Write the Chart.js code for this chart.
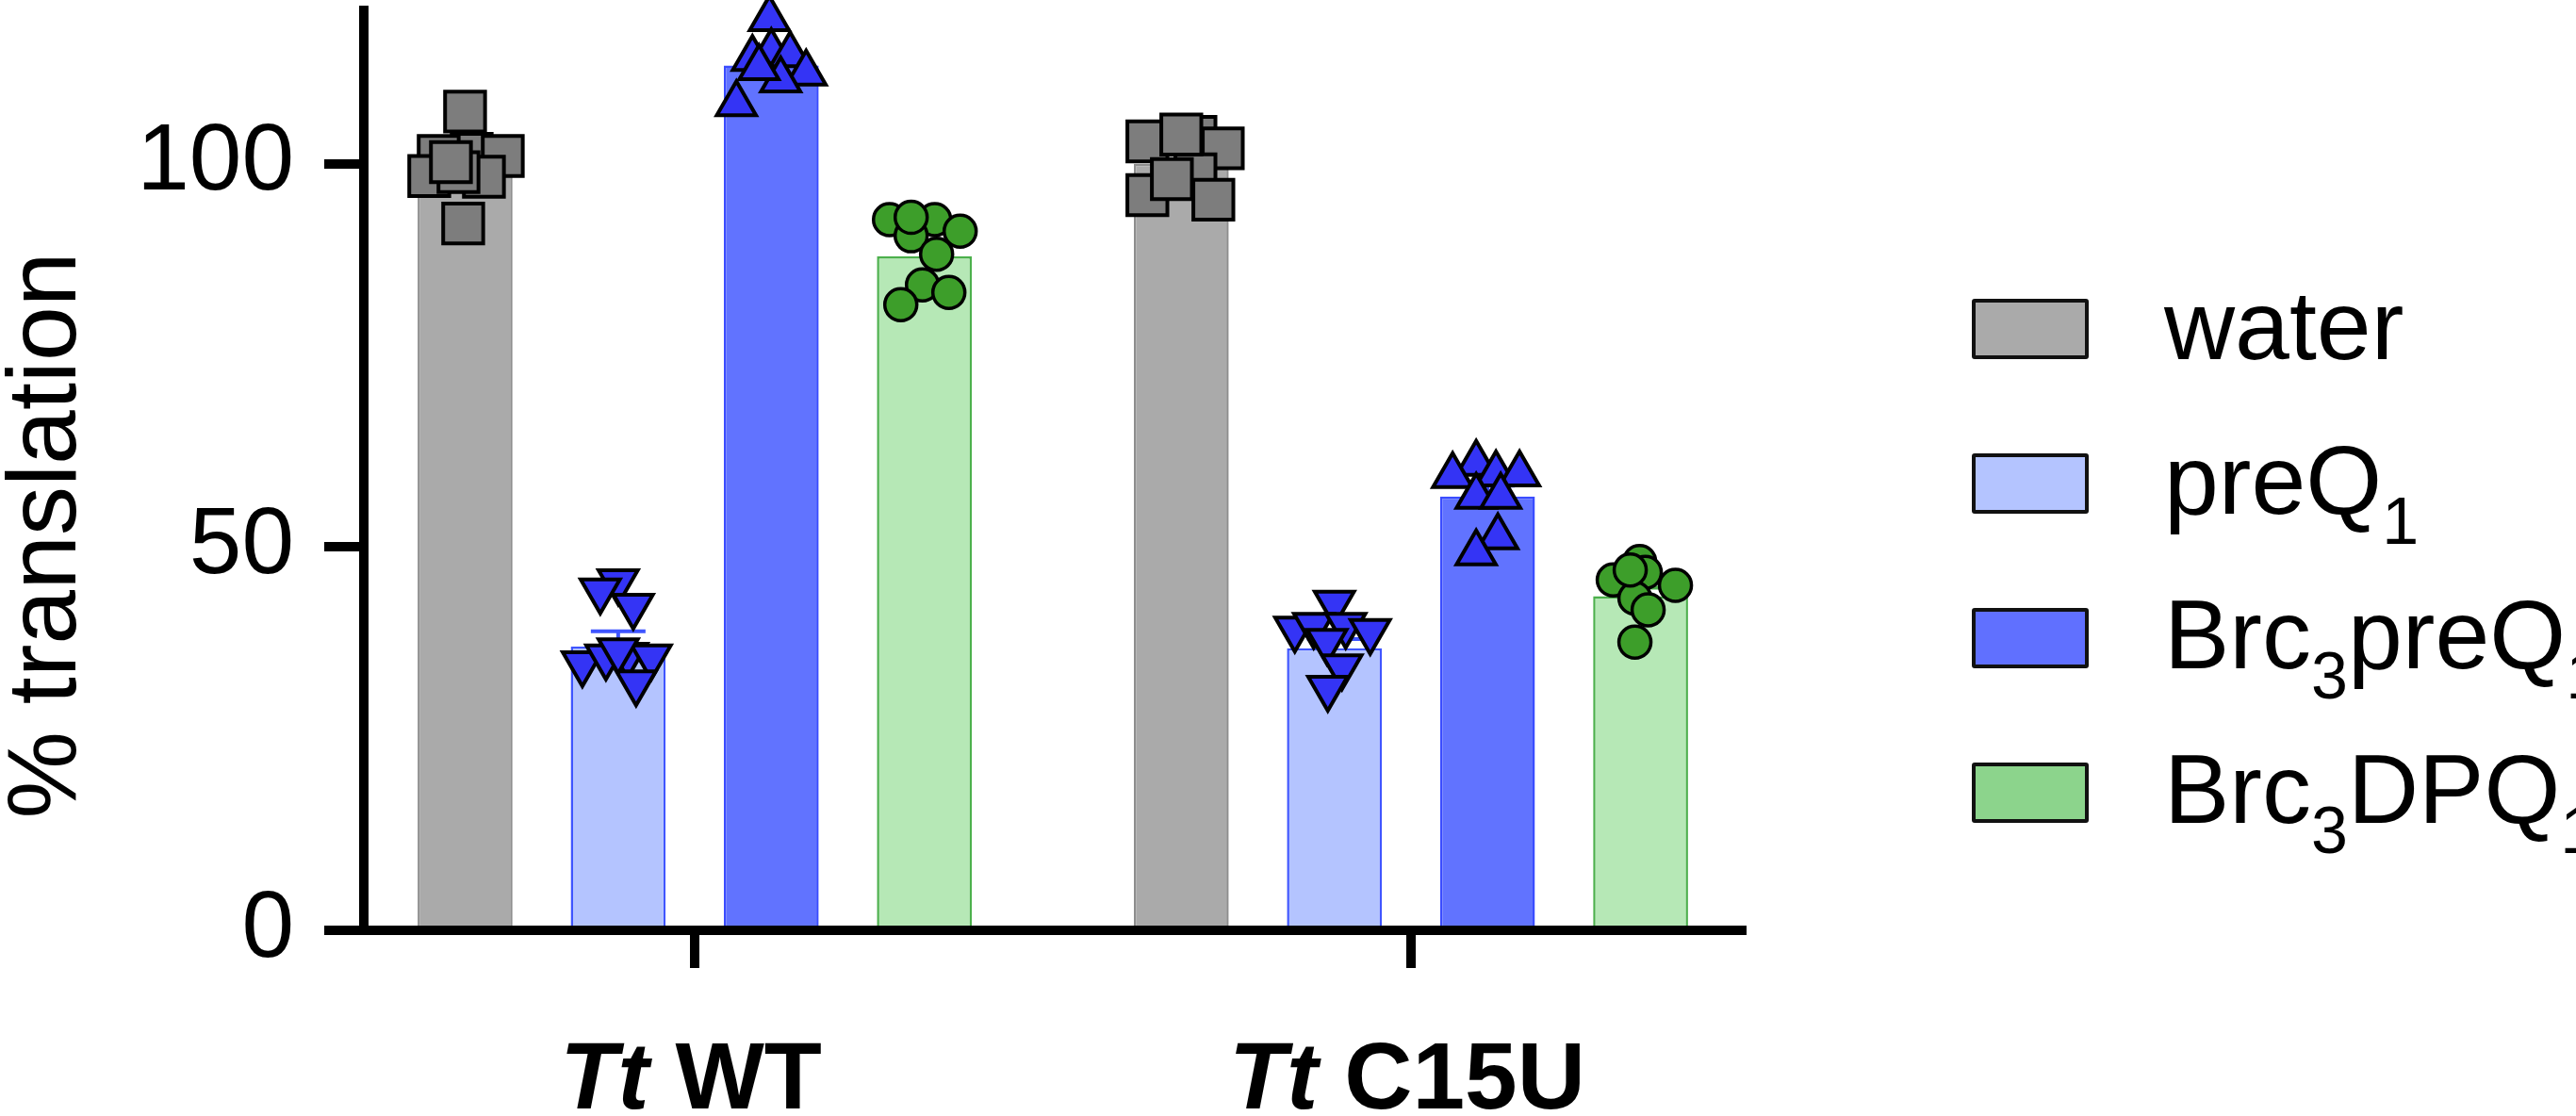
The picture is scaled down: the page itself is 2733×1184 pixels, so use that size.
<!DOCTYPE html>
<html>
<head>
<meta charset="utf-8">
<script src="https://cdn.jsdelivr.net/npm/chart.js@4.4.1/dist/chart.umd.min.js"></script>
<style>
    html, body { margin: 0; padding: 0; background: #fff; overflow: hidden; }
    #wrap { position: relative; width: 2733px; height: 1184px; }
    #legend { position: absolute; left: 0; top: 0; font-family: 'Liberation Sans', Arial, sans-serif; }
    .row { position: absolute; left: 2092px; }
    .box { position: absolute; left: 0; top: 0; width: 116px; height: 56px; border: 4px solid #111; border-radius: 3px; }
    .lab { position: absolute; left: 204px; top: -24px; font-size: 104px; line-height: 104px; white-space: nowrap; color: #000; }
    .lab sub { font-size: 70px; vertical-align: -32px; line-height: 0; }
</style>
</head>
<body>
<div id="wrap">
    <canvas id="myChart"></canvas>
    <div id="legend"></div>
</div>
<script>
const categories = ['Tt WT', 'Tt C15U'];
const series = ['water', 'preQ1', 'Brc3preQ1', 'Brc3DPQ1'];
const yTitle = '% translation';
const yTicks = [0, 50, 100];
const xTicks = [0, 1];

// bar heights (mean) per category
const waterMean = [100.0, 100.0];
const preQ1Mean = [37.0, 36.8];
const brcPreQ1Mean = [112.8, 56.6];
const brcDPQ1Mean = [87.9, 43.6];

// error (SEM) per category
const waterSem = [1.4, 1.2];
const preQ1Sem = [2.0, 1.2];
const brcPreQ1Sem = [1.1, 1.4];
const brcDPQ1Sem = [1.6, 1.1];

// single replicates
const waterWT = [106.8, 101.3, 101.0, 101.0, 98.4, 98.3, 98.9, 92.2, 100.2];
const waterC15U = [102.9, 103.5, 102.0, 98.6, 95.9, 95.3, 98.0, 103.8];
const preQ1WT = [45.5, 44.3, 42.3, 34.8, 35.7, 35.9, 35.7, 32.3, 36.5];
const preQ1C15U = [42.7, 39.3, 39.8, 39.8, 39.0, 37.7, 34.4, 31.6];
const brcPreQ1WT = [118.9, 113.7, 114.6, 114.2, 111.8, 110.9, 112.5, 107.8];
const brcPreQ1C15U = [60.9, 59.3, 59.5, 59.5, 56.6, 56.6, 51.3, 49.2];
const brcDPQ1WT = [92.7, 92.7, 91.2, 90.6, 88.2, 84.2, 83.2, 81.6, 93.0];
const brcDPQ1C15U = [45.7, 48.1, 46.7, 45.0, 43.3, 41.8, 37.6, 47.0];

// horizontal scatter of the replicates, in pixels (look only)
const waterJit = [[0, 7, -28, 40, -38, 20, -7, -2, -15], [-36, 15, 44, 15, -36, 34, -10, 0]];
const preQ1Jit = [[0, -19, 16, -38, -13, 10, 35, 19, 0], [0, -42, -22, 12, 38, -8, 8, -7]];
const brcPreQ1Jit = [[-2, -20, 0, 20, 37, 10, -13, -37], [-12, -37, 9, 34, -12, 14, 11, -12]];
const brcDPQ1Jit = [[-37, 11, 38, -14, 13, -2, 26, -25, -14], [-29, -1, 5, 37, -6, 8, -6, -11]];

const barFill = ['#aaaaaa', '#b4c4ff', '#6173ff', '#b6e8b6'];
const barLine = ['#8e8e8e', '#3f55ff', '#3a4cff', '#4cb04c'];
const legendFill = ['#aaaaaa', '#b4c4ff', '#6070ff', '#8cd48c'];
const dotFill = ['#7d7d7d', '#3434f5', '#3434f5', '#3d9e2a'];

const catPct = 0.855;
const barPct = 0.62;
const UNIT_PX = 760; // about one category step on the x axis
const slot = catPct / series.length;

function bars(means) {
    return means.map((v, g) => ({x: xTicks[g], y: v}));
}

function dots(s, lists, jits) {
    let out = [];
    lists.forEach((vals, g) => {
        vals.forEach((v, k) => {
            out.push({x: xTicks[g] + (s - 1.5) * slot + jits[g][k] / UNIT_PX, y: v});
        });
    });
    return out;
}

const means = [waterMean, preQ1Mean, brcPreQ1Mean, brcDPQ1Mean];
const sems = [waterSem, preQ1Sem, brcPreQ1Sem, brcDPQ1Sem];
const reps = [[waterWT, waterC15U], [preQ1WT, preQ1C15U], [brcPreQ1WT, brcPreQ1C15U], [brcDPQ1WT, brcDPQ1C15U]];
const jits = [waterJit, preQ1Jit, brcPreQ1Jit, brcDPQ1Jit];
const shapes = [['rect', 30, 0], ['triangle', 24, 180], ['triangle', 24, 0], ['circle', 17, 0]];

let datasets = [];
series.forEach((name, s) => {
    datasets.push({
        type: 'bar',
        label: name,
        data: bars(means[s]),
        sem: sems[s],
        backgroundColor: barFill[s],
        borderColor: barLine[s],
        borderWidth: 2.5,
        categoryPercentage: catPct,
        barPercentage: barPct,
        order: 2
    });
});
series.forEach((name, s) => {
    datasets.push({
        type: 'scatter',
        label: name + ' points',
        data: dots(s, reps[s], jits[s]),
        pointStyle: shapes[s][0],
        pointRadius: shapes[s][1],
        pointHoverRadius: shapes[s][1],
        pointRotation: shapes[s][2],
        pointBackgroundColor: dotFill[s],
        pointBorderColor: '#000000',
        pointBorderWidth: s === 3 ? 3.5 : 4,
        showLine: false,
        clip: false,
        order: 1
    });
});

// error caps, drawn right after each bar set so the dots sit on top
const errorBars = {
    id: 'errorBars',
    afterDatasetDraw(chart, args) {
        const ds = chart.data.datasets[args.index];
        if (!ds.sem) return;
        const ctx = chart.ctx;
        const y = chart.scales.y;
        ctx.save();
        ctx.strokeStyle = ds.borderColor;
        ctx.lineWidth = 4;
        args.meta.data.forEach((bar, g) => {
            const top = y.getPixelForValue(ds.data[g].y + ds.sem[g]);
            ctx.beginPath();
            ctx.moveTo(bar.x, bar.y);
            ctx.lineTo(bar.x, top);
            ctx.moveTo(bar.x - 29, top);
            ctx.lineTo(bar.x + 29, top);
            ctx.stroke();
        });
        ctx.restore();
    }
};

// category names (italic species part) and the y title
const texts = {
    id: 'texts',
    afterDraw(chart) {
        const ctx = chart.ctx;
        const xs = chart.scales.x;
        const area = chart.chartArea;
        ctx.save();
        ctx.fillStyle = '#000';
        ctx.textBaseline = 'alphabetic';
        ctx.textAlign = 'left';
        categories.forEach((c, i) => {
            const parts = c.split(' ');
            const first = parts[0];
            const rest = ' ' + parts.slice(1).join(' ');
            ctx.font = 'italic bold 100px "Liberation Sans"';
            const w1 = ctx.measureText(first).width;
            ctx.font = 'bold 100px "Liberation Sans"';
            const w2 = ctx.measureText(rest).width;
            const x0 = xs.getPixelForValue(xTicks[i]) - (w1 + w2) / 2 - 4;
            const base = area.bottom + 189;
            ctx.font = 'italic bold 100px "Liberation Sans"';
            ctx.fillText(first, x0, base);
            ctx.font = 'bold 100px "Liberation Sans"';
            ctx.fillText(rest, x0 + w1, base);
        });
        ctx.translate(80, 568);
        ctx.rotate(-Math.PI / 2);
        ctx.font = '104px "Liberation Sans"';
        ctx.textAlign = 'center';
        ctx.fillText(yTitle, 0, 0);
        ctx.restore();
    }
};

graph();
legend();

function graph() {
    const ctx = document.getElementById('myChart');

    Chart.defaults.font.family = '"Liberation Sans", Arial, sans-serif';
    Chart.defaults.color = '#000';

    new Chart(ctx, {
        type: 'bar',
        data: {datasets: datasets},
        plugins: [errorBars, texts],
        options: {
            animation: false,
            responsive: true,
            maintainAspectRatio: false,
            layout: {
                autoPadding: false,
                padding: {top: 11, right: 885, left: 0, bottom: 0}
            },
            plugins: {
                legend: {display: false},
                tooltip: {enabled: false}
            },
            scales: {
                x: {
                    type: 'linear',
                    min: -0.462,
                    max: 1.462,
                    offset: false,
                    z: 1,
                    afterBuildTicks: (s) => { s.ticks = xTicks.map(v => ({value: v})); },
                    afterFit: (s) => {
                        s.height = 197;
                        s.paddingLeft = 0;
                        s.paddingRight = 0;
                    },
                    ticks: {display: false},
                    border: {display: true, color: '#000', width: 10},
                    grid: {
                        offset: false,
                        drawOnChartArea: false,
                        drawTicks: true,
                        tickLength: 40,
                        lineWidth: 10,
                        color: '#000'
                    }
                },
                y: {
                    min: 0,
                    max: 120,
                    z: 1,
                    afterBuildTicks: (s) => { s.ticks = yTicks.map(v => ({value: v})); },
                    afterFit: (s) => {
                        s.width = 386;
                        // the top tick is well below the axis end, no room needed for labels
                        s.paddingTop = 0;
                        s.paddingBottom = 0;
                    },
                    ticks: {
                        padding: 32,
                        color: '#000',
                        font: {size: 100}
                    },
                    border: {display: true, color: '#000', width: 10},
                    grid: {
                        drawOnChartArea: false,
                        drawTicks: true,
                        tickLength: 42,
                        lineWidth: 10,
                        color: '#000'
                    }
                }
            }
        }
    });
}

function legend() {
    const el = document.getElementById('legend');
    series.forEach((name, s) => {
        const row = document.createElement('div');
        row.className = 'row';
        row.style.top = (317 + s * 164) + 'px';
        const box = document.createElement('div');
        box.className = 'box';
        box.style.background = legendFill[s];
        const lab = document.createElement('div');
        lab.className = 'lab';
        lab.innerHTML = name.replace(/(\d)/g, '<sub>$1</sub>');
        row.appendChild(box);
        row.appendChild(lab);
        el.appendChild(row);
    });
}
</script>
</body>
</html>
